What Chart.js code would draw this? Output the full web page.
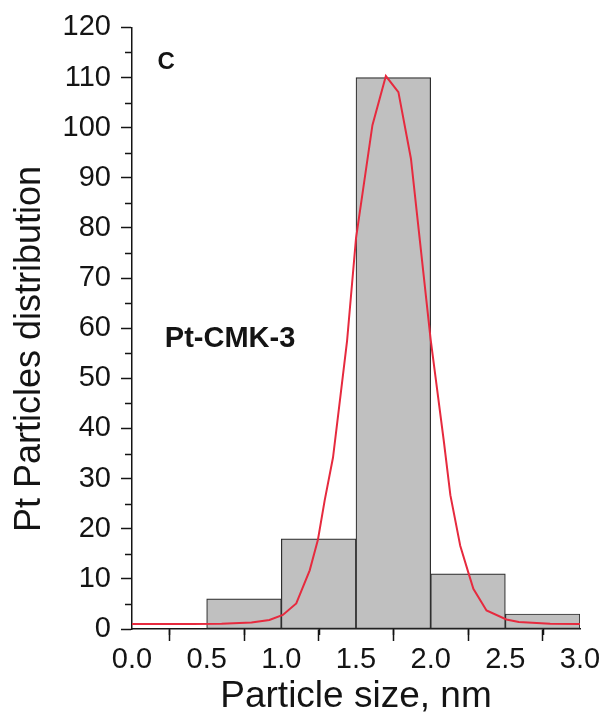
<!DOCTYPE html>
<html>
<head>
<meta charset="utf-8">
<script src="https://cdn.jsdelivr.net/npm/chart.js@4.4.1/dist/chart.umd.min.js"></script>
<style>
  html, body { margin: 0; padding: 0; background: #fff; }
  #wrap { width: 603px; height: 723px; }
</style>
</head>
<body>
<div id="wrap"><canvas id="psd" width="603" height="723"></canvas></div>
<script>
// histogram bins (centre of each 0.5 nm bin) and counts
var binCenters = [0.75, 1.25, 1.75, 2.25, 2.75];
var binCounts  = [6, 18, 110, 11, 3];

// fitted curve
var fitX = [0.0, 0.2, 0.4, 0.6, 0.8, 0.92, 1.01, 1.10, 1.19, 1.245, 1.29, 1.346, 1.40, 1.44, 1.50, 1.61, 1.70, 1.784, 1.868, 2.0, 2.088, 2.132, 2.198, 2.253, 2.286, 2.374, 2.507, 2.59, 2.8, 3.0];
var fitY = [1.0, 1.0, 1.0, 1.05, 1.3, 1.8, 2.8, 5.1, 11.7, 17.8, 25.6, 34.2, 47.5, 57.4, 77.9, 100.5, 110.3, 107.1, 93.8, 57.7, 37.5, 26.7, 16.6, 11.2, 8.0, 3.7, 1.9, 1.4, 1.05, 1.0];

// axis ticks
var sizeTicks  = [0, 0.5, 1.0, 1.5, 2.0, 2.5, 3.0];
var countTicks = [0, 10, 20, 30, 40, 50, 60, 70, 80, 90, 100, 110, 120];

var FONT = '"Liberation Sans", Arial, sans-serif';
var INK = '#141414';

var barPts = binCenters.map(function (x, i) { return { x: x, y: binCounts[i] }; });
var fitPts = fitX.map(function (x, i) { return { x: x, y: fitY[i] }; });

// minor ticks half way between major ones + the text labels in the plot
var extras = {
  id: 'extras',
  afterDraw: function (chart) {
    var ctx = chart.ctx, xs = chart.scales.x, ys = chart.scales.y;
    ctx.save();
    ctx.strokeStyle = INK;
    ctx.lineWidth = 1.5;
    ctx.beginPath();
    for (var i = 0; i < sizeTicks.length - 1; i++) {
      var px = Math.round(xs.getPixelForValue((sizeTicks[i] + sizeTicks[i + 1]) / 2)) + 0.5;
      ctx.moveTo(px, ys.bottom);
      ctx.lineTo(px, ys.bottom + 6);
    }
    for (var j = 0; j < countTicks.length - 1; j++) {
      var py = Math.round(ys.getPixelForValue((countTicks[j] + countTicks[j + 1]) / 2)) + 0.5;
      ctx.moveTo(xs.left, py);
      ctx.lineTo(xs.left - 7, py);
    }
    ctx.stroke();

    ctx.fillStyle = INK;
    ctx.textBaseline = 'middle';
    ctx.textAlign = 'left';
    ctx.font = 'bold 24px ' + FONT;
    ctx.fillText('C', xs.getPixelForValue(0.17), ys.getPixelForValue(113));
    ctx.font = 'bold 29px ' + FONT;
    ctx.fillText('Pt-CMK-3', xs.getPixelForValue(0.22), ys.getPixelForValue(57.8));

    // y axis title, sits a bit below the middle of the axis in the original
    ctx.save();
    ctx.translate(30, 349);
    ctx.rotate(-Math.PI / 2);
    ctx.textAlign = 'center';
    ctx.font = '36px ' + FONT;
    ctx.fillText('Pt Particles distribution', 0, 0);
    ctx.restore();
    ctx.restore();
  }
};

new Chart(document.getElementById('psd'), {
  type: 'bar',
  data: {
    datasets: [
      {
        type: 'line',
        data: fitPts,
        borderColor: '#e62a3e',
        borderWidth: 2,
        pointRadius: 0,
        tension: 0,
        fill: false,
        order: 0
      },
      {
        type: 'bar',
        data: barPts,
        backgroundColor: '#c0c0c0',
        borderColor: '#2e2e2e',
        borderWidth: 1.2,
        borderSkipped: false,
        barPercentage: 1,
        categoryPercentage: 1,
        order: 1
      }
    ]
  },
  options: {
    responsive: false,
    animation: false,
    layout: { padding: { left: 0, right: 23, top: 25, bottom: 0 } },
    plugins: { legend: { display: false }, tooltip: { enabled: false } },
    scales: {
      x: {
        type: 'linear',
        min: 0, max: 3,
        offset: false,
        afterBuildTicks: function (s) { s.ticks = sizeTicks.map(function (v) { return { value: v }; }); },
        afterFit: function (s) { s.height = 94; },
        grid: { drawOnChartArea: false, drawTicks: true, tickLength: 12, tickColor: INK, tickWidth: 1.5 },
        border: { display: true, color: INK, width: 1.5 },
        ticks: {
          padding: 2, color: INK, maxRotation: 0, autoSkip: false,
          font: { family: FONT, size: 29 },
          callback: function (v) { return Number(v).toFixed(1); }
        },
        title: {
          display: true, text: 'Particle size, nm', color: INK,
          font: { family: FONT, size: 37 }, padding: { top: 0, bottom: 4 }
        }
      },
      y: {
        min: 0, max: 120,
        afterBuildTicks: function (s) { s.ticks = countTicks.map(function (v) { return { value: v }; }); },
        afterFit: function (s) { s.width = 132; },
        grid: { drawOnChartArea: false, drawTicks: true, tickLength: 11, tickColor: INK, tickWidth: 1.5 },
        border: { display: true, color: INK, width: 1.5 },
        ticks: {
          padding: 10, color: INK, autoSkip: false,
          font: { family: FONT, size: 29 }
        },
        title: { display: false }
      }
    }
  },
  plugins: [extras]
});
</script>
</body>
</html>
